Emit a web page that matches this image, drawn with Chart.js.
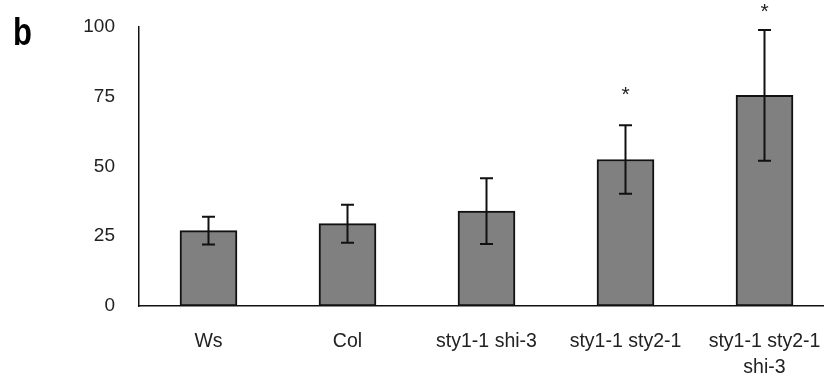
<!DOCTYPE html>
<html>
<head>
<meta charset="utf-8">
<script src="https://cdn.jsdelivr.net/npm/chart.js@4.4.1/dist/chart.umd.min.js"></script>
<style>
    html, body { margin: 0; padding: 0; background: #fff; overflow: hidden; }
    #wrap { width: 840px; height: 377px; }
</style>
</head>
<body>
<div id="wrap"><canvas id="barChart"></canvas></div>
<script>
// data
const lines = [['Ws'], ['Col'], ['sty1-1 shi-3'], ['sty1-1 sty2-1'], ['sty1-1 sty2-1', 'shi-3']];
const means = [27, 29.5, 34, 52.5, 75.5];
const errs = [5, 6.8, 11.8, 12.3, 23.4];
const stars = ['', '', '', '*', '*'];
const starAt = [null, null, null, 76.5, 106.5];
const yTicks = [0, 25, 50, 75, 100];

const FONT = '"Liberation Sans", Arial, sans-serif';

// error bars + asterisks + panel letter
const extras = {
    id: 'extras',
    afterDatasetsDraw(chart) {
        const ctx = chart.ctx;
        const x = chart.scales.x;
        const y = chart.scales.y;
        ctx.save();
        ctx.strokeStyle = '#111';
        ctx.lineWidth = 2;
        for (let i = 0; i < means.length; i++) {
            const cx = x.getPixelForValue(i);
            const top = y.getPixelForValue(means[i] + errs[i]);
            const bot = y.getPixelForValue(means[i] - errs[i]);
            ctx.beginPath();
            ctx.moveTo(cx, top); ctx.lineTo(cx, bot);
            ctx.moveTo(cx - 6.5, top); ctx.lineTo(cx + 6.5, top);
            ctx.moveTo(cx - 6.5, bot); ctx.lineTo(cx + 6.5, bot);
            ctx.stroke();
            if (stars[i]) {
                ctx.fillStyle = '#222';
                ctx.font = '21px ' + FONT;
                ctx.textAlign = 'center';
                ctx.textBaseline = 'middle';
                ctx.fillText(stars[i], cx, y.getPixelForValue(starAt[i]) + 3);
            }
        }
        // panel letter, a bit taller than wide like the scan
        ctx.fillStyle = '#000';
        ctx.font = 'bold 31px ' + FONT;
        ctx.textAlign = 'left';
        ctx.textBaseline = 'alphabetic';
        ctx.translate(13, 45);
        ctx.scale(1, 1.25);
        ctx.fillText('b', 0, 0);
        ctx.restore();
    }
};

const barChart = new Chart(document.getElementById('barChart'), {
    type: 'bar',
    data: {
        labels: lines,
        datasets: [{
            data: means,
            backgroundColor: '#808080',
            borderColor: '#111',
            borderWidth: 2,
            borderSkipped: false,
            barThickness: 57
        }]
    },
    options: {
        responsive: true,
        maintainAspectRatio: false,
        animation: false,
        layout: { padding: { top: 27, right: 6, left: 0, bottom: 0 } },
        plugins: { legend: { display: false }, tooltip: { enabled: false } },
        scales: {
            x: {
                grid: { display: false, drawTicks: false },
                border: { color: '#111', width: 1.5 },
                ticks: {
                    color: '#222',
                    padding: 22,
                    maxRotation: 0,
                    autoSkip: false,
                    font: { family: FONT, size: 19.5, lineHeight: 1.35 }
                },
                afterFit(scale) {
                    scale.height = 71;
                    scale.paddingLeft = 0;
                    scale.paddingRight = 0;
                }
            },
            y: {
                min: 0,
                max: 100,
                afterBuildTicks(scale) { scale.ticks = yTicks.map(v => ({ value: v })); },
                grid: { display: false, drawTicks: false },
                border: { color: '#111', width: 1.5 },
                ticks: {
                    color: '#222',
                    padding: 24,
                    font: { family: FONT, size: 19 }
                },
                afterFit(scale) {
                    scale.width = 139;
                    scale.paddingTop = 0;
                    scale.paddingBottom = 0;
                }
            }
        }
    },
    plugins: [extras]
});
</script>
</body>
</html>
